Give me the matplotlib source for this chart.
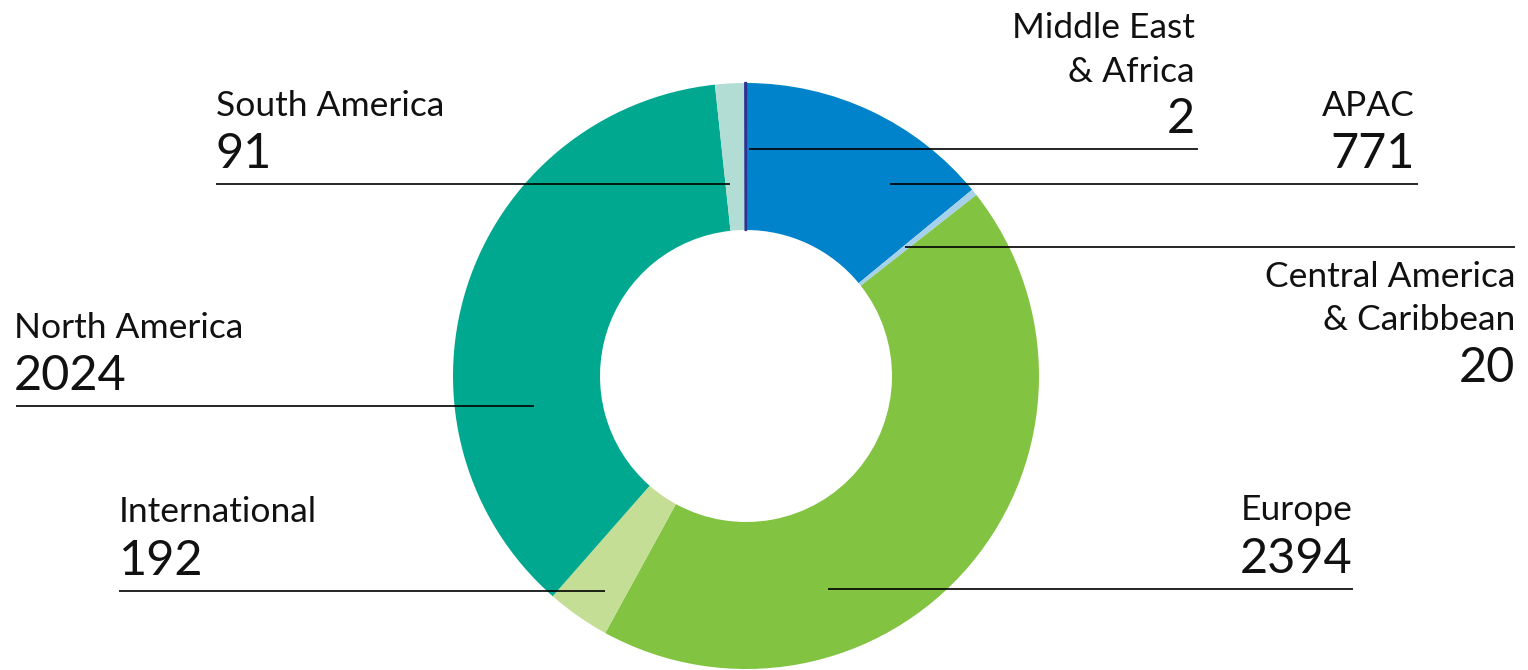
import matplotlib.pyplot as plt

plt.rcParams['font.family'] = ['Lato', 'DejaVu Sans']

# slices, clockwise from 12 o'clock
regions = ['APAC', 'Central America\n& Caribbean', 'Europe', 'International',
           'North America', 'South America', 'Middle East\n& Africa']
values = [771, 20, 2394, 192, 2024, 91, 2]
colors = ['#0083ca', '#a6d1ec', '#82c341', '#c4de95', '#00a88f', '#b2ddd5', '#2e3192']

W, H = 1528, 670
fig = plt.figure(figsize=(W / 100, H / 100), dpi=100)
ax = fig.add_axes([0, 0, 1, 1])

cx, cy, R = 746, H - 376, 293
wedges, _ = ax.pie(values, colors=colors, startangle=90, counterclock=False,
                   center=(cx, cy), radius=R, frame=True,
                   wedgeprops=dict(width=147, linewidth=0))
# make the tiny slice visible
wedges[-1].set_edgecolor(colors[-1])
wedges[-1].set_linewidth(1.6)
ax.set_xlim(0, W)
ax.set_ylim(0, H)
ax.set_aspect('equal')
ax.axis('off')

def py(y):
    return H - y

# label layout: (x text, align, name baselines, value baseline, line y, line x0, line x1)
layout = {
    'Middle East\n& Africa': (1195, 'right', [38, 82], 133, 149, 749, 1198),
    'APAC': (1415, 'right', [116], 168, 184, 890, 1418),
    'Central America\n& Caribbean': (1515, 'right', [287, 330], 382, 247, 905, 1515),
    'South America': (216, 'left', [116], 168, 184, 216, 730),
    'North America': (14, 'left', [338], 390, 406, 16, 534),
    'International': (119, 'left', [522], 575, 591, 119, 605),
    'Europe': (1353, 'right', [520], 573, 589, 828, 1353),
}

for name, val in zip(regions, values):
    x, ha, nbs, vb, ly, x0, x1 = layout[name]
    for ln, b in zip(name.split('\n'), nbs):
        ax.text(x, py(b), ln, ha=ha, va='baseline', fontsize=25.5, color='#111111')
    ax.text(x, py(vb), str(val), ha=ha, va='baseline', fontsize=35, color='#111111')
    ax.plot([x0, x1], [py(ly), py(ly)], color='black', lw=1.2, solid_capstyle='butt')

fig.savefig('out.png', dpi=100)
